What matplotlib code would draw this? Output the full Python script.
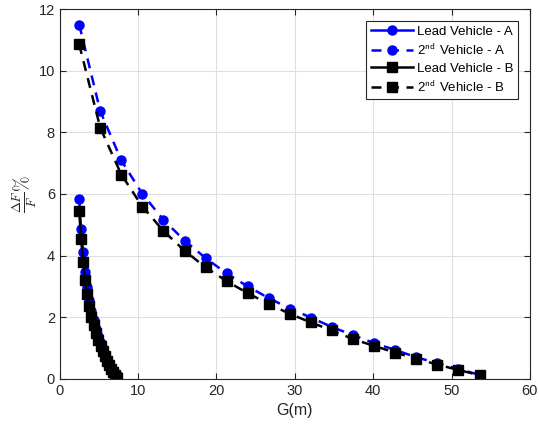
import matplotlib
matplotlib.use("Agg")
import matplotlib.pyplot as plt

plt.rcParams['font.family'] = ['Liberation Sans', 'DejaVu Sans']
plt.rcParams['mathtext.fontset'] = 'cm'

# lead vehicle (solid) data
lead_x = [2.47, 2.72, 2.97, 3.20, 3.45, 3.72, 4.00, 4.30, 4.60, 4.90,
          5.20, 5.50, 5.80, 6.05, 6.30, 6.55, 6.78, 6.98, 7.15, 7.28]
lead_a = [5.83, 4.87, 4.11, 3.48, 2.97, 2.55, 2.20, 1.90, 1.63, 1.39,
          1.17, 0.97, 0.79, 0.63, 0.49, 0.36, 0.25, 0.16, 0.09, 0.03]
lead_b = [5.44, 4.53, 3.80, 3.21, 2.75, 2.35, 2.02, 1.74, 1.49, 1.27,
          1.07, 0.89, 0.73, 0.58, 0.45, 0.33, 0.23, 0.14, 0.07, 0.02]

# 2nd vehicle (dashed) data
sec_x = [2.47, 5.16, 7.85, 10.54, 13.23, 15.92, 18.61, 21.30, 23.99, 26.68,
         29.37, 32.06, 34.75, 37.44, 40.13, 42.82, 45.51, 48.20, 50.89, 53.58]
sec_a = [11.50, 8.69, 7.09, 6.00, 5.16, 4.49, 3.92, 3.42, 3.00, 2.62,
         2.28, 1.99, 1.68, 1.42, 1.16, 0.94, 0.70, 0.51, 0.32, 0.13]
sec_b = [10.86, 8.15, 6.63, 5.59, 4.80, 4.16, 3.62, 3.17, 2.78, 2.43,
         2.11, 1.83, 1.57, 1.29, 1.07, 0.85, 0.66, 0.46, 0.29, 0.12]

fig = plt.figure(figsize=(5.39, 4.33), dpi=100)
ax = fig.add_axes([0.111, 0.125, 0.872, 0.854])

dash = (4, 3)
ax.plot(lead_x, lead_a, '-o', color='blue', lw=1.8, ms=6.5, label='Lead Vehicle - A')
ax.plot(sec_x, sec_a, '--o', color='blue', lw=1.8, ms=6.5, dashes=dash,
        label='2$^{\\mathsf{nd}}$ Vehicle - A')
ax.plot(lead_x, lead_b, '-s', color='black', lw=1.8, ms=6.5, label='Lead Vehicle - B')
ax.plot(sec_x, sec_b, '--s', color='black', lw=1.8, ms=6.5, dashes=dash,
        label='2$^{\\mathsf{nd}}$ Vehicle - B')

ax.set_xlim(0, 60)
ax.set_ylim(0, 12)
ax.set_xticks(range(0, 61, 10))
ax.set_yticks(range(0, 13, 2))
ax.grid(True, color='#e0e0e0', lw=0.8)
ax.set_axisbelow(True)
ax.tick_params(direction='in', top=True, right=True, labelsize=10.5,
               colors='#262626', length=4)
for s in ax.spines.values():
    s.set_color('#262626')
    s.set_linewidth(0.8)

ax.set_xlabel('G(m)', fontsize=11.5, color='#262626')
ax.set_ylabel(r'$\frac{\Delta F}{F}\%$', fontsize=13.5, color='#262626', labelpad=0)

leg = ax.legend(loc='upper right', fontsize=9.5, handlelength=3.2,
                fancybox=False, edgecolor='#262626', framealpha=1,
                borderaxespad=0.9, labelspacing=0.35, handletextpad=0.3,
                borderpad=0.35)
leg.get_frame().set_linewidth(0.8)

fig.savefig('out.png', dpi=100)
